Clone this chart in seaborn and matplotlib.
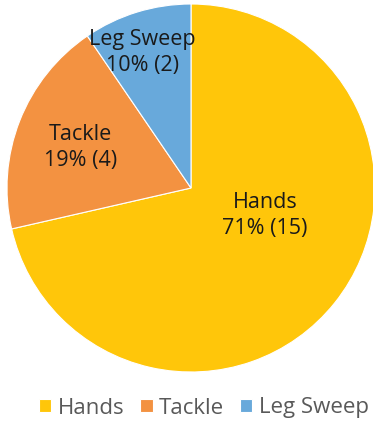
import numpy as np
import matplotlib
matplotlib.use("Agg")
import matplotlib.pyplot as plt
import seaborn as sns

categories = ["Hands", "Tackle", "Leg Sweep"]
counts = [15, 4, 2]

sns.set_theme(style="white")
plt.rcParams['font.family'] = ['Open Sans', 'DejaVu Sans']

colors = ["#FFC60A", "#F39241", "#68A9DB"]

fig = plt.figure(figsize=(3.73, 4.25), dpi=100)
ax = fig.add_axes([7/373, 53/425, 368/373, 368/425])

total = sum(counts)
wedges, _ = ax.pie(counts, colors=colors, startangle=90, counterclock=False,
                   radius=1, wedgeprops=dict(linewidth=0.8, edgecolor="white"))
ax.set_xlim(-1, 1)
ax.set_ylim(-1, 1)
ax.set_aspect("equal")
ax.axis("off")

# label placement: radial factor and angle offset (deg) per wedge
layout = [(0.43, 18), (0.64, 1.5), (0.78, 2.5)]
for w, cat, c, (rf, off) in zip(wedges, categories, counts, layout):
    mid = np.deg2rad((w.theta1 + w.theta2) / 2 + off)
    x, y = rf * np.cos(mid), rf * np.sin(mid)
    pct = round(100 * c / total)
    ax.text(x, y, f"{cat}\n{pct}% ({c})", ha="center", va="center",
            fontsize=15.5, color="#1a1a1a", linespacing=1.3)

leg = fig.legend(wedges, categories, loc="center", bbox_to_anchor=(204/373, 1 - 408/425),
                 ncol=3, frameon=False, fontsize=16, handlelength=0.55, handleheight=0.55,
                 handletextpad=0.3, columnspacing=0.7, labelcolor="#595959")
fig.savefig("out.png", dpi=100)
